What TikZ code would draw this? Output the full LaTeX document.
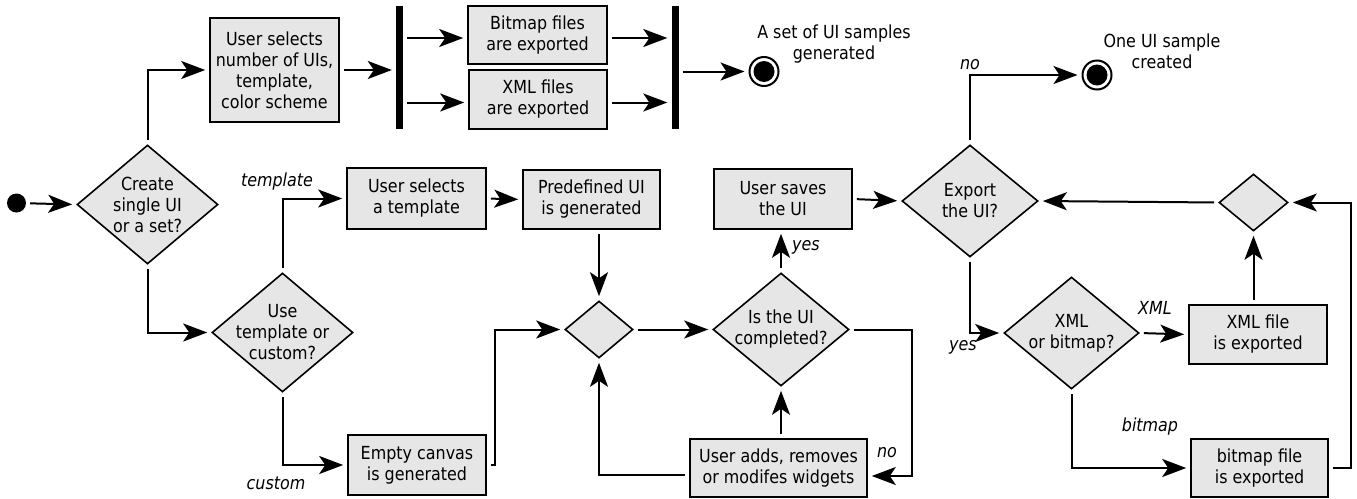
\documentclass[tikz,border=0pt]{standalone}
\usepackage{fontspec}
\setmainfont{DejaVu Sans}[FakeStretch=0.885]
\usetikzlibrary{arrows.meta,shapes.geometric,calc}
\definecolor{boxgray}{RGB}{230,230,230}
\begin{document}
\begin{tikzpicture}[x=1pt,y=-1pt,
  every node/.style={font=\fontsize{18}{21}\selectfont},
  box/.style={rectangle, draw, line width=1.6pt, fill=boxgray, inner sep=0pt, align=center},
  dia/.style={diamond, draw, line width=1.6pt, fill=boxgray, inner sep=0pt},
  txt/.style={align=center, inner sep=0pt},
  lbl/.style={font=\fontsize{18}{21}\selectfont\itshape, inner sep=0pt},
  bar/.style={rectangle, fill=black, inner sep=0pt, minimum width=7pt, minimum height=123pt},
  startdot/.style={circle, fill=black, inner sep=0pt, minimum size=19pt},
  enddot/.style={circle, draw, line width=2pt, inner sep=0pt, minimum size=29pt,
    path picture={\fill[black] (path picture bounding box.center) circle (10.5pt);}},
  conn/.style={line width=2pt, -{Stealth[length=24pt,width=18pt,inset=6pt]}, shorten <=4pt, shorten >=4pt}
]
\useasboundingbox (0,0) rectangle (1357,498);

% nodes
\node[startdot] (start) at (16.5,203) {};
\node[dia, minimum width=141pt, minimum height=119pt] (d1) at (147.5,204.5) {};
\node[txt] (d1t) at (d1) {Create\\single UI\\or a set?};
\node[dia, minimum width=141pt, minimum height=119pt] (d2) at (282.5,332.5) {};
\node[txt] (d2t) at (d2) {Use\\template or\\custom?};

\node[box, minimum width=129pt, minimum height=104pt] (b1) at (274.5,70) {User selects\\number of UIs,\\template,\\color scheme};
\node[bar] (bar1) at (399.5,67.5) {};
\node[box, minimum width=139pt, minimum height=58pt] (bmp) at (537.5,35) {Bitmap files\\are exported};
\node[box, minimum width=138pt, minimum height=59pt] (xmls) at (538,99.5) {XML files\\are exported};
\node[bar] (bar2) at (675,67.5) {};
\node[enddot] (end1) at (764,71.5) {};
\node[txt] (end1t) at (834,44) {A set of UI samples\\generated};

\node[box, minimum width=139pt, minimum height=61pt] (tmpl) at (416.5,198.5) {User selects\\a template};
\node[box, minimum width=137pt, minimum height=59pt] (pre) at (591.5,199.5) {Predefined UI\\is generated};
\node[box, minimum width=138pt, minimum height=60pt] (empty) at (417,465) {Empty canvas\\is generated};
\node[dia, minimum width=68pt, minimum height=57pt] (m1) at (599,329.5) {};
\node[dia, minimum width=136pt, minimum height=113pt] (dui) at (781,329.5) {};
\node[txt] (duit) at (dui) {Is the UI\\completed?};
\node[box, minimum width=138pt, minimum height=60pt] (save) at (783,199) {User saves\\the UI};
\node[box, minimum width=177pt, minimum height=58pt] (adds) at (778.5,468) {User adds, removes\\or modifes widgets};

\node[dia, minimum width=136pt, minimum height=112pt] (dexp) at (970,201) {};
\node[txt] (dexpt) at (dexp) {Export\\the UI?};
\node[enddot] (end2) at (1097,75) {};
\node[txt] (end2t) at (1162,51) {One UI sample\\created};
\node[dia, minimum width=69pt, minimum height=57pt] (m2) at (1253.5,202.5) {};
\node[dia, minimum width=135pt, minimum height=112pt] (dxml) at (1071.5,333) {};
\node[txt] (dxmlt) at (dxml) {XML\\or bitmap?};
\node[box, minimum width=138pt, minimum height=59pt] (xmlf) at (1258,334.5) {XML file\\is exported};
\node[box, minimum width=137pt, minimum height=58pt] (bmpf) at (1259.5,468) {bitmap file\\is exported};

% labels
\node[lbl] (ltemplate) at (277,182) {template};
\node[lbl] (lcustom) at (276,483) {custom};
\node[lbl] (lyes1) at (806,247) {yes};
\node[lbl] (lno1) at (887,453) {no};
\node[lbl] (lno2) at (970,65) {no};
\node[lbl] (lyes2) at (963,347) {yes};
\node[lbl] (lxml) at (1155,308) {XML};
\node[lbl] (lbitmap) at (1150,427) {bitmap};

% connectors
\draw[conn] (start) -- (d1.west);
\draw[conn] (d1.north) |- (b1.west);
\draw[conn] (d1.south) |- (d2.west);
\draw[conn] (b1.east) -- (b1.east -| bar1.west);
\draw[conn] ([yshift=-3pt]bmp.west -| bar1.east) -- ([yshift=-3pt]bmp.west);
\draw[conn] ([yshift=-3pt]xmls.west -| bar1.east) -- ([yshift=-3pt]xmls.west);
\draw[conn] ([yshift=-3pt]bmp.east) -- ([yshift=-3pt]bmp.east -| bar2.west);
\draw[conn] ([yshift=-3pt]xmls.east) -- ([yshift=-3pt]xmls.east -| bar2.west);
\draw[conn] (end1 -| bar2.east) -- (end1.west);
\draw[conn] (d2.north) |- (tmpl.west);
\draw[conn] (d2.south) |- (empty.west);
\draw[conn] (tmpl.east) -- (pre.west);
\draw[conn] (pre.south -| m1.north) -- (m1.north);
\draw[conn] (empty.east) -- ([xshift=8pt]empty.east) |- (m1.west);
\draw[conn] (m1.east) -- (dui.west);
\draw[conn] (dui.north) -- (save.south -| dui.north);
\draw[conn] (adds.north -| dui.south) -- (dui.south);
\draw[conn] ([yshift=-7pt]adds.west) -| (m1.south);
\draw[conn] (dui.east) -- ([xshift=62pt]dui.east) |- ([yshift=-8pt]adds.east);
\draw[conn] (save.east) -- (dexp.west);
\draw[conn] (dexp.north) |- (end2.west);
\draw[conn] (dexp.south) |- (dxml.west);
\draw[conn] (dxml.east) -- (xmlf.west);
\draw[conn] (dxml.south) |- (bmpf.west);
\draw[conn] (xmlf.north -| m2.south) -- (m2.south);
\draw[conn] (bmpf.east) -- ([xshift=22pt]bmpf.east) |- (m2.east);
\draw[conn] (m2.west) -- (dexp.east);
\end{tikzpicture}
\end{document}
